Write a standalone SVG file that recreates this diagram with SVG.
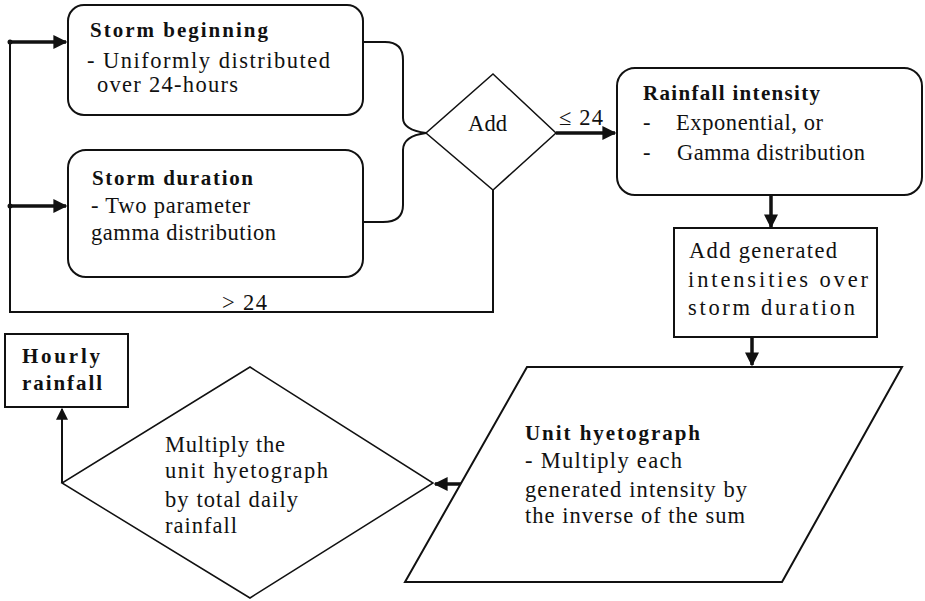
<svg xmlns="http://www.w3.org/2000/svg" width="925" height="601" viewBox="0 0 925 601">
<defs>
<marker id="ah" viewBox="0 0 10 10" refX="9" refY="5" markerWidth="4" markerHeight="4" orient="auto" markerUnits="strokeWidth"><path d="M0,0 L10,5 L0,10 z" fill="#111"/></marker>
<marker id="ahs" viewBox="0 0 10 10" refX="9" refY="5" markerWidth="6" markerHeight="6" orient="auto" markerUnits="strokeWidth"><path d="M0,0 L10,5 L0,10 z" fill="#111"/></marker>
<marker id="dot" viewBox="0 0 6 6" refX="3" refY="3" markerWidth="6" markerHeight="6" markerUnits="userSpaceOnUse"><circle cx="3" cy="3" r="2.5" fill="#111"/></marker>
</defs>
<style>
text{font-family:"Liberation Serif","Times New Roman",serif;font-size:22.5px;fill:#111}
.b{font-weight:bold;font-size:21px}
.box{fill:#fff;stroke:#111;stroke-width:2}
.thin{fill:#fff;stroke:#111;stroke-width:1.5}
.ln{fill:none;stroke:#111;stroke-width:2}
.th{fill:none;stroke:#111;stroke-width:3.5}
</style>
<rect width="925" height="601" fill="#fff"/>
<g id="connectors">
<path class="ln" d="M10,42 L10,312 L493,312 L493,190"/>
<path class="th" d="M10,42 L66,42" marker-end="url(#ah)" marker-start="url(#dot)"/>
<path class="th" d="M10,206 L66,206" marker-end="url(#ah)" marker-start="url(#dot)"/>
<path class="ln" d="M364,42 L385,42 Q403,42 403,60 L403,118 Q403,130 426,133"/>
<path class="ln" d="M426,133 Q403,136 403,150 L403,205 Q403,222 383,222 L364,222"/>
<path class="th" d="M556,133 L615,133" marker-end="url(#ah)"/>
<path class="th" d="M771,195 L771,227" marker-end="url(#ah)"/>
<path class="th" d="M752,337 L752,365" marker-end="url(#ah)"/>
<path class="th" d="M461,484 L435,484" marker-end="url(#ah)"/>
<path class="ln" d="M62,483 L62,409" marker-end="url(#ahs)"/>
<text x="222" y="310" textLength="45" lengthAdjust="spacing">&gt; 24</text>
<text x="559" y="125" textLength="44" lengthAdjust="spacing">≤ 24</text>
</g>
<g id="storm-beginning">
<rect class="box" x="68" y="5" width="295" height="110" rx="16"/>
<text class="b" x="90" y="37" textLength="178" lengthAdjust="spacing">Storm beginning</text>
<text x="87" y="68" textLength="243" lengthAdjust="spacing">- Uniformly distributed</text>
<text x="97" y="92" textLength="141" lengthAdjust="spacing">over 24-hours</text>
</g>
<g id="storm-duration">
<rect class="box" x="68" y="150" width="295" height="127" rx="18"/>
<text class="b" x="92" y="185" textLength="161" lengthAdjust="spacing">Storm duration</text>
<text x="91" y="213" textLength="159" lengthAdjust="spacing">- Two parameter</text>
<text x="91" y="240" textLength="185" lengthAdjust="spacing">gamma distribution</text>
</g>
<g id="add">
<polygon class="thin" points="493,74 556,133 493,190 426,133"/>
<text x="468" y="131" textLength="39" lengthAdjust="spacing">Add</text>
</g>
<g id="rainfall-intensity">
<rect class="box" x="617" y="68" width="305" height="127" rx="18"/>
<text class="b" x="643" y="100" textLength="177" lengthAdjust="spacing">Rainfall intensity</text>
<text x="643" y="130">-</text>
<text x="676" y="130" textLength="147" lengthAdjust="spacing">Exponential, or</text>
<text x="643" y="160">-</text>
<text x="677" y="160" textLength="188" lengthAdjust="spacing">Gamma distribution</text>
</g>
<g id="add-generated">
<rect class="box" x="674" y="228" width="203" height="109"/>
<text x="689" y="258" textLength="148" lengthAdjust="spacing">Add generated</text>
<text x="688" y="287" textLength="180" lengthAdjust="spacing">intensities over</text>
<text x="688" y="315" textLength="167" lengthAdjust="spacing">storm duration</text>
</g>
<g id="unit-hyetograph">
<polygon class="box" points="527,367 902,367 782,582 405,582"/>
<text class="b" x="525" y="440" textLength="175" lengthAdjust="spacing">Unit hyetograph</text>
<text x="525" y="468" textLength="157" lengthAdjust="spacing">- Multiply each</text>
<text x="525" y="497" textLength="222" lengthAdjust="spacing">generated intensity by</text>
<text x="525" y="523" textLength="220" lengthAdjust="spacing">the inverse of the sum</text>
</g>
<g id="multiply">
<polygon class="thin" points="250,367 433,483 250,598 62,483"/>
<text x="165" y="452" textLength="120" lengthAdjust="spacing">Multiply the</text>
<text x="165" y="478" textLength="163" lengthAdjust="spacing">unit hyetograph</text>
<text x="165" y="507" textLength="133" lengthAdjust="spacing">by total daily</text>
<text x="165" y="533" textLength="72" lengthAdjust="spacing">rainfall</text>
</g>
<g id="hourly-rainfall">
<rect class="box" x="5" y="334" width="123" height="73"/>
<text class="b" x="22" y="363" textLength="78" lengthAdjust="spacing">Hourly</text>
<text class="b" x="22" y="390" textLength="80" lengthAdjust="spacing">rainfall</text>
</g>
</svg>
